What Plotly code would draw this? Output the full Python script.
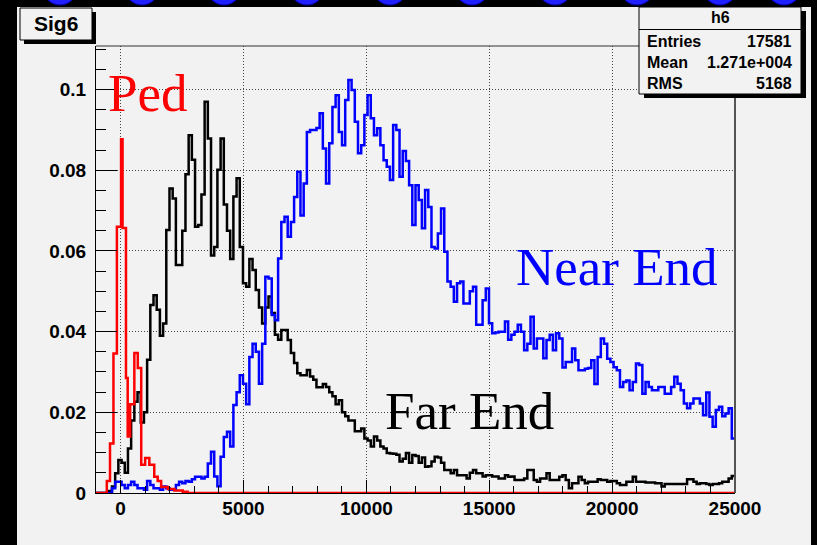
import plotly.graph_objects as go

# ---------------- data ----------------
x_min, x_max, n_bins = -1000, 25000, 200
x_ticks = [0, 5000, 10000, 15000, 20000, 25000]
y_ticks = [0, 0.02, 0.04, 0.06, 0.08, 0.1]
y_tick_labels = ["0", "0.02", "0.04", "0.06", "0.08", "0.1"]

far_end = [
    0, 0, 0, 0, 0.0005, 0.0016, 0.0049, 0.0082, 0.0075, 0.005,
    0.011, 0.018, 0.0226, 0.025, 0.0175, 0.02, 0.033, 0.0466, 0.049, 0.0454,
    0.039, 0.042, 0.0652, 0.0755, 0.073, 0.0565, 0.0565, 0.065, 0.079, 0.0887,
    0.0826, 0.066, 0.0664, 0.074, 0.097, 0.0879, 0.0589, 0.061, 0.0801, 0.0879,
    0.0715, 0.065, 0.058, 0.0735, 0.078, 0.061, 0.052, 0.0511, 0.058, 0.0553,
    0.0503, 0.046, 0.042, 0.046, 0.0487, 0.0446, 0.0392, 0.038, 0.0404, 0.0404,
    0.0379, 0.0347, 0.0322, 0.0297, 0.0292, 0.0292, 0.0305, 0.0289, 0.0281, 0.0262,
    0.0262, 0.027, 0.0263, 0.025, 0.024, 0.022, 0.023, 0.02, 0.019, 0.018,
    0.018, 0.0153, 0.0153, 0.016, 0.0135, 0.013, 0.0115, 0.014, 0.013, 0.0115,
    0.011, 0.0099, 0.0098, 0.0097, 0.0095, 0.0078, 0.0085, 0.0099, 0.0075, 0.0094,
    0.0092, 0.0075, 0.0088, 0.0065, 0.0066, 0.0078, 0.009, 0.0088, 0.0075, 0.0057,
    0.0057, 0.0049, 0.0057, 0.0044, 0.0044, 0.0044, 0.0036, 0.005, 0.0057, 0.0049,
    0.0049, 0.0041, 0.0044, 0.0044, 0.0041, 0.0041, 0.0036, 0.0036, 0.0044, 0.004,
    0.0041, 0.0032, 0.0032, 0.0032, 0.0036, 0.0057, 0.0057, 0.0032, 0.0028, 0.0036,
    0.0036, 0.0049, 0.0032, 0.0032, 0.0032, 0.004, 0.0044, 0.0032, 0.0012, 0.0024,
    0.0024, 0.004, 0.0032, 0.0024, 0.0028, 0.0028, 0.0028, 0.0034, 0.0032, 0.0032,
    0.0028, 0.003, 0.003, 0.0024, 0.002, 0.002, 0.0028, 0.0028, 0.004, 0.0028,
    0.0028, 0.0028, 0.0026, 0.0026, 0.0026, 0.0024, 0.0024, 0.0016, 0.0022, 0.0022,
    0.0022, 0.0022, 0.0022, 0.0022, 0.0022, 0.0034, 0.0034, 0.0028, 0.0022, 0.0024,
    0.0024, 0.0022, 0.002, 0.0022, 0.0022, 0.0024, 0.0028, 0.0028, 0.0036, 0.0042,
]

near_end = [
    0, 0, 0, 0, 0, 0.0012, 0.0028, 0.0028, 0.002, 0.0012,
    0.002, 0.0028, 0.002, 0.0012, 0.0012, 0.0008, 0.003, 0.002, 0.0012, 0.0012,
    0.0008, 0.0016, 0.0012, 0.0008, 0.0008, 0.002, 0.0028, 0.0024, 0.003, 0.0028,
    0.0034, 0.004, 0.004, 0.0036, 0.004, 0.0073, 0.0102, 0.0041, 0.0017, 0.009,
    0.0139, 0.0152, 0.0115, 0.0218, 0.025, 0.0292, 0.0271, 0.022, 0.0337, 0.037,
    0.035, 0.0271, 0.037, 0.0536, 0.0532, 0.0441, 0.0428, 0.0581, 0.0672, 0.0685,
    0.0635, 0.0672, 0.0734, 0.0796, 0.0688, 0.0767, 0.0895, 0.09, 0.09, 0.0905,
    0.0941, 0.0854, 0.0767, 0.0867, 0.0957, 0.0986, 0.0895, 0.0862, 0.0974, 0.1024,
    0.0999, 0.092, 0.0842, 0.0862, 0.0937, 0.0986, 0.0929, 0.0887, 0.0904, 0.0862,
    0.0825, 0.0809, 0.0776, 0.0912, 0.09, 0.0784, 0.0848, 0.0823, 0.0763, 0.0664,
    0.0763, 0.0726, 0.0656, 0.0751, 0.0709, 0.061, 0.0606, 0.0643, 0.0705, 0.0598,
    0.0524, 0.0511, 0.0474, 0.052, 0.0524, 0.047, 0.047, 0.05, 0.0511, 0.0417,
    0.0417, 0.0478, 0.0507, 0.0421, 0.0396, 0.0398, 0.04, 0.04, 0.0425, 0.038,
    0.0392, 0.04, 0.0417, 0.04, 0.0354, 0.037, 0.0437, 0.0358, 0.0383, 0.0383,
    0.0334, 0.0379, 0.0392, 0.0354, 0.0396, 0.0383, 0.0311, 0.0325, 0.0325, 0.0358,
    0.0329, 0.0304, 0.0304, 0.0308, 0.031, 0.0329, 0.027, 0.0337, 0.0383, 0.037,
    0.0333, 0.0325, 0.0312, 0.0304, 0.0263, 0.0275, 0.0279, 0.0255, 0.0275, 0.0321,
    0.0317, 0.0246, 0.0275, 0.0263, 0.0255, 0.0255, 0.0263, 0.0263, 0.0246, 0.0246,
    0.0263, 0.0288, 0.0271, 0.0255, 0.0222, 0.021, 0.0222, 0.0234, 0.0234, 0.0222,
    0.0193, 0.0249, 0.0189, 0.0164, 0.0206, 0.0214, 0.019, 0.0197, 0.021, 0.0135,
]

ped_edges = [-1000, -560, -430, -290, -150, 20, 80, 220, 290, 390, 560, 700,
             840, 1000, 1170, 1370, 1510, 1650, 1920, 2190, 2530, 2730, 25000]
ped_values = [0, 0.003, 0.0123, 0.0346, 0.066, 0.0877, 0.0657, 0.0285, 0.014,
              0.022, 0.0347, 0.031, 0.007, 0.0087, 0.007, 0.004, 0.003, 0.0015,
              0.001, 0.0006, 0.0003, 0]

stats_rows = [("Entries", "17581"), ("Mean", "1.271e+004"), ("RMS", "5168")]

# ---------------- geometry helpers ----------------
W, H = 817, 545
L, R, T, B = 96, 735, 46, 493


def px(xp):
    return (xp - L) / (R - L)


def py(yp):
    return (B - yp) / (B - T)


bw = (x_max - x_min) / n_bins
edges = [x_min + i * bw for i in range(n_bins + 1)]


def step(xe, vals):
    return xe, list(vals) + [vals[-1]]


LW = 2.5
fig = go.Figure()
for vals, col, nm in [(far_end, "black", "Far End"), (near_end, "#0000ff", "Near End")]:
    xs, ys = step(edges, vals)
    fig.add_trace(go.Scatter(x=xs, y=ys, mode="lines", line=dict(color=col, width=LW, shape="hv"),
                             name=nm, showlegend=False, hoverinfo="skip"))
xs, ys = step(ped_edges, ped_values)
fig.add_trace(go.Scatter(x=xs, y=ys, mode="lines", line=dict(color="#ff0000", width=LW, shape="hv"),
                         name="Ped", showlegend=False, hoverinfo="skip"))

PANEL = "#f2f2f2"
shapes = []
# gray canvas panel
shapes.append(dict(type="rect", xref="paper", yref="paper", x0=px(17), x1=px(811), y0=py(546), y1=py(7),
                   fillcolor=PANEL, line=dict(width=0), layer="below"))
# blue blobs at the top edge
for cx in [60, 142, 224, 307, 390, 472, 555, 637, 720, 784]:
    shapes.append(dict(type="circle", xref="paper", yref="paper", x0=px(cx - 17), x1=px(cx + 17),
                       y0=py(5), y1=py(-29), fillcolor="#1f1fff", line=dict(color="#0000aa", width=1),
                       layer="below"))
# frame (top/right dark gray)
shapes.append(dict(type="line", xref="paper", yref="paper", x0=0, x1=1, y0=1, y1=1,
                   line=dict(color="#333333", width=1)))
shapes.append(dict(type="line", xref="paper", yref="paper", x0=1, x1=1, y0=0, y1=1,
                   line=dict(color="#555555", width=2)))
# title box "Sig6" with shadow
shapes.append(dict(type="rect", xref="paper", yref="paper", x0=px(24), x1=px(96), y0=py(44), y1=py(12),
                   fillcolor="black", line=dict(width=0)))
shapes.append(dict(type="rect", xref="paper", yref="paper", x0=px(20), x1=px(92), y0=py(40), y1=py(8),
                   fillcolor=PANEL, line=dict(color="black", width=1)))
# stats box with shadow
shapes.append(dict(type="rect", xref="paper", yref="paper", x0=px(644), x1=px(806), y0=py(98), y1=py(11),
                   fillcolor="black", line=dict(width=0)))
shapes.append(dict(type="rect", xref="paper", yref="paper", x0=px(639), x1=px(801), y0=py(94), y1=py(7),
                   fillcolor=PANEL, line=dict(color="black", width=1)))
shapes.append(dict(type="line", xref="paper", yref="paper", x0=px(639), x1=px(801), y0=py(29.5), y1=py(29.5),
                   line=dict(color="black", width=1)))

ann = []
bold = dict(family="Liberation Sans, Arial", color="black", weight="bold")
ann.append(dict(text="Sig6", x=px(56), y=py(24), xref="paper", yref="paper", showarrow=False,
                xanchor="center", yanchor="middle", font=dict(size=21, **bold)))
ann.append(dict(text="h6", x=px(720), y=py(18), xref="paper", yref="paper", showarrow=False,
                xanchor="center", yanchor="middle", font=dict(size=16, **bold)))
for i, (lab, val) in enumerate(stats_rows):
    yc = 41 + i * 21.3
    ann.append(dict(text=lab, x=px(645), y=py(yc), xref="paper", yref="paper", showarrow=False,
                    xanchor="left", yanchor="middle", font=dict(size=16, **bold)))
    ann.append(dict(text=val, x=px(794), y=py(yc), xref="paper", yref="paper", showarrow=False,
                    xanchor="right", yanchor="middle", font=dict(size=16, **bold)))
serif = "Liberation Serif, Times New Roman"
for txt, xl, base, col in [("Ped", 106, 110, "#ff0000"), ("Near End", 514, 284, "#0000ff"),
                           ("Far End", 383, 428, "black")]:
    ann.append(dict(text=txt, x=px(xl), y=py(base - 17), xref="paper", yref="paper", showarrow=False,
                    xanchor="left", yanchor="middle", font=dict(family=serif, size=53, color=col)))

tickfont = dict(family="Liberation Sans, Arial", size=19, color="black", weight="bold")
fig.update_layout(
    width=W, height=H, autosize=False,
    margin=dict(l=L, r=W - R, t=T, b=H - B, pad=0),
    paper_bgcolor="black", plot_bgcolor=PANEL,
    shapes=shapes, annotations=ann, showlegend=False,
    xaxis=dict(range=[x_min, x_max], tickvals=x_ticks, ticktext=[str(v) for v in x_ticks],
               ticks="inside", ticklen=13, tickwidth=1, tickcolor="black",
               minor=dict(dtick=1000, tick0=0, ticks="inside", ticklen=7, tickcolor="black", showgrid=False),
               showgrid=True, gridcolor="#444444", griddash="1px,2px", gridwidth=1,
               showline=True, linecolor="black", linewidth=1, zeroline=False,
               tickfont=tickfont, ticklabelstandoff=-2),
    yaxis=dict(range=[0, 0.1108], tickvals=y_ticks, ticktext=y_tick_labels,
               ticks="inside", ticklen=21, tickwidth=1, tickcolor="black",
               minor=dict(dtick=0.005, tick0=0, ticks="inside", ticklen=10, tickcolor="black", showgrid=False),
               showgrid=True, gridcolor="#444444", griddash="1px,2px", gridwidth=1,
               showline=True, linecolor="black", linewidth=1, zeroline=False,
               tickfont=tickfont, ticklabelstandoff=5),
)

fig.write_html("out.html", config={"displayModeBar": False},
               post_script="document.body.style.margin='0px';document.body.style.background='black';")
